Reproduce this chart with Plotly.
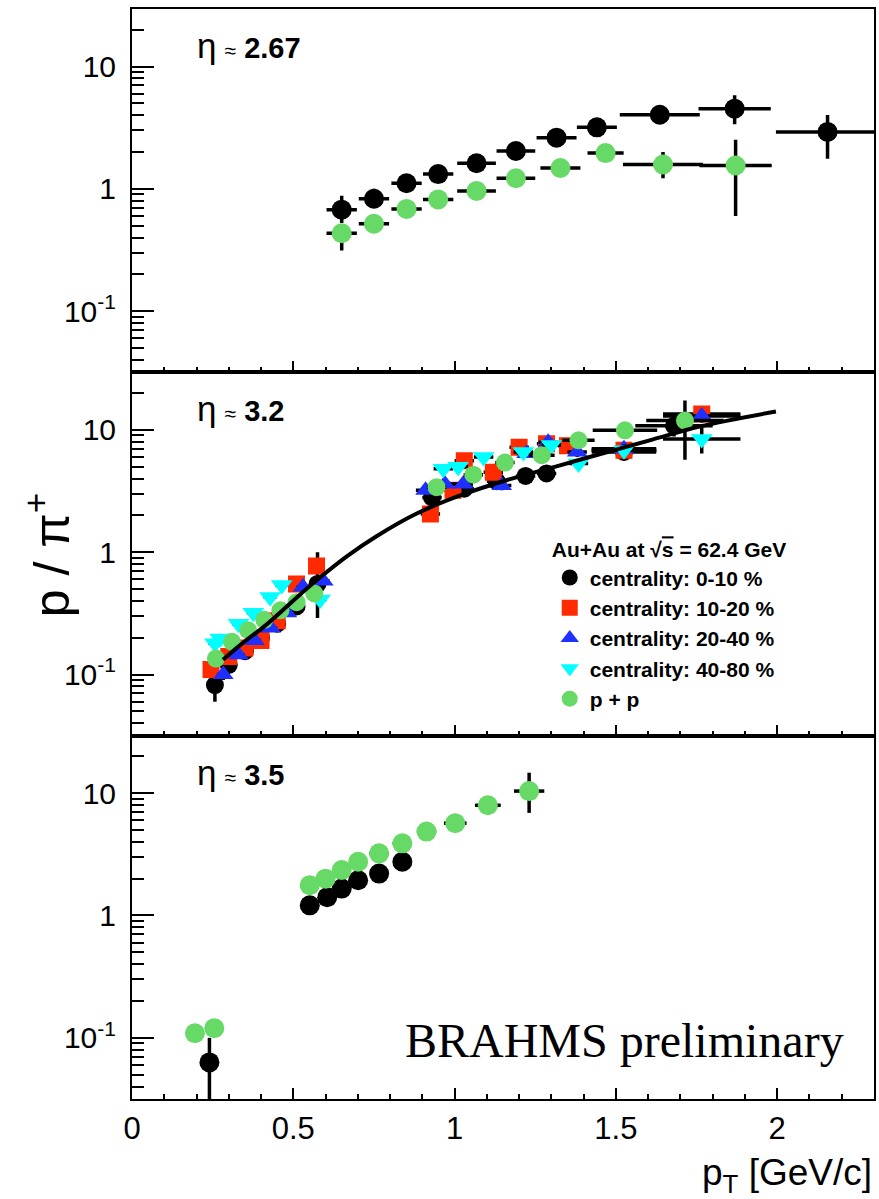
import plotly.graph_objects as go
from plotly.subplots import make_subplots

# ---------------- data ----------------
# Top panel (eta ~ 2.67)
top_c0_pt = [0.650, 0.750, 0.851, 0.949, 1.068, 1.190, 1.316, 1.441, 1.636, 1.868, 2.156]
top_c0_val = [0.676, 0.83, 1.11, 1.32, 1.62, 2.04, 2.62, 3.18, 4.03, 4.52, 2.92]
top_c0_ex = [0.047, 0.047, 0.047, 0.047, 0.06, 0.06, 0.062, 0.062, 0.124, 0.112, 0.16]
top_c0_eyp = [0.2, 0.17, 0.12, 0.13, 0.15, 0.2, 0.25, 0.3, 0.35, 1.3, 1.1]
top_c0_eym = [0.15, 0.1, 0.1, 0.1, 0.12, 0.15, 0.2, 0.25, 0.35, 1.15, 1.16]

top_pp_pt = [0.650, 0.750, 0.851, 0.949, 1.068, 1.190, 1.328, 1.468, 1.646, 1.871]
top_pp_val = [0.433, 0.518, 0.685, 0.819, 0.962, 1.22, 1.48, 1.96, 1.58, 1.55]
top_pp_ex = [0.047, 0.047, 0.047, 0.047, 0.06, 0.06, 0.062, 0.056, 0.124, 0.112]
top_pp_eyp = [0.05, 0.04, 0.05, 0.05, 0.06, 0.08, 0.1, 0.15, 0.42, 0.97]
top_pp_eym = [0.12, 0.04, 0.05, 0.05, 0.06, 0.08, 0.1, 0.15, 0.36, 0.95]

# Middle panel (eta ~ 3.2)
mid_c0_pt = [0.257, 0.30, 0.35, 0.40, 0.45, 0.51, 0.575, 0.93, 1.03, 1.13, 1.22, 1.285, 1.525, 1.68]
mid_c0_val = [0.082, 0.12, 0.155, 0.20, 0.26, 0.36, 0.55, 2.8, 3.3, 3.8, 4.2, 4.4, 6.6, 10.8]
mid_c0_ex = [0.02, 0.02, 0.02, 0.02, 0.02, 0.02, 0.02, 0.03, 0.03, 0.03, 0.03, 0.03, 0.1, 0.12]
mid_c0_eyp = [0.015, 0.01, 0.01, 0.015, 0.02, 0.03, 0.45, 0.3, 0.3, 0.35, 0.4, 0.45, 0.8, 2.0]
mid_c0_eym = [0.022, 0.01, 0.01, 0.015, 0.02, 0.03, 0.26, 0.3, 0.3, 0.35, 0.4, 0.45, 0.8, 2.0]

mid_c1_pt = [0.245, 0.30, 0.35, 0.40, 0.45, 0.51, 0.572, 0.925, 0.995, 1.03, 1.12, 1.20, 1.285, 1.35, 1.525, 1.766]
mid_c1_val = [0.11, 0.14, 0.165, 0.19, 0.275, 0.55, 0.77, 2.05, 3.2, 5.6, 4.5, 7.2, 7.7, 7.4, 6.8, 13.5]
mid_c1_ex = [0.02] * 7 + [0.03] * 7 + [0.1, 0.12]
mid_c1_ey = [0.01, 0.01, 0.01, 0.015, 0.02, 0.03, 0.08, 0.25, 0.3, 0.4, 0.4, 0.5, 0.6, 0.6, 0.8, 1.5]

mid_c2_pt = [0.283, 0.33, 0.38, 0.43, 0.48, 0.53, 0.593, 0.91, 0.97, 1.027, 1.146, 1.223, 1.29, 1.38, 1.525, 1.766]
mid_c2_val = [0.10, 0.145, 0.19, 0.24, 0.32, 0.52, 0.58, 3.2, 3.6, 3.6, 3.5, 6.4, 7.9, 6.6, 7.0, 13.0]
mid_c2_ex = [0.02] * 7 + [0.03] * 7 + [0.1, 0.12]
mid_c2_ey = [0.01, 0.01, 0.01, 0.015, 0.02, 0.03, 0.06, 0.25, 0.3, 0.3, 0.3, 0.5, 0.6, 0.6, 0.8, 1.5]

mid_c3_pt = [0.257, 0.273, 0.33, 0.376, 0.428, 0.464, 0.583, 0.965, 1.011, 1.09, 1.213, 1.30, 1.384, 1.525, 1.766]
mid_c3_val = [0.18, 0.197, 0.26, 0.32, 0.43, 0.54, 0.41, 4.8, 5.0, 6.0, 6.6, 7.5, 5.3, 6.8, 8.4]
mid_c3_ex = [0.02] * 7 + [0.03] * 6 + [0.1, 0.12]
mid_c3_ey = [0.01, 0.01, 0.015, 0.02, 0.03, 0.04, 0.05, 0.3, 0.3, 0.4, 0.5, 0.6, 0.5, 0.8, 2.0]

mid_pp_pt = [0.26, 0.31, 0.36, 0.41, 0.46, 0.51, 0.565, 0.944, 1.058, 1.156, 1.27, 1.384, 1.528, 1.714]
mid_pp_val = [0.135, 0.185, 0.23, 0.28, 0.335, 0.39, 0.46, 3.4, 4.3, 5.4, 6.2, 8.2, 9.9, 11.9]
mid_pp_ex = [0.02] * 7 + [0.03, 0.03, 0.03, 0.04, 0.05, 0.1, 0.12]
mid_pp_eyp = [0.01, 0.01, 0.01, 0.015, 0.02, 0.03, 0.04, 0.2, 0.3, 0.4, 0.5, 0.6, 0.8, 5.5]
mid_pp_eym = [0.01, 0.01, 0.01, 0.015, 0.02, 0.03, 0.04, 0.2, 0.3, 0.4, 0.5, 0.6, 0.8, 6.2]

fit_pt = [0.282, 0.34, 0.413, 0.49, 0.563, 0.668, 0.758, 0.878, 1.013, 1.163, 1.313, 1.463, 1.613, 1.763, 1.996]
fit_val = [0.132, 0.178, 0.251, 0.38, 0.562, 0.933, 1.35, 2.04, 2.88, 3.89, 5.01, 6.46, 8.32, 10.7, 14.1]

# Bottom panel (eta ~ 3.5)
bot_c0_pt = [0.24, 0.551, 0.605, 0.65, 0.701, 0.766, 0.838]
bot_c0_val = [0.063, 1.21, 1.41, 1.66, 1.94, 2.2, 2.75]
bot_c0_ex = [0.025] * 7
bot_c0_eyp = [0.037, 0.05, 0.05, 0.06, 0.07, 0.08, 0.1]
bot_c0_eym = [0.05, 0.05, 0.05, 0.06, 0.07, 0.08, 0.1]

bot_pp_pt = [0.195, 0.255, 0.551, 0.60, 0.65, 0.701, 0.766, 0.838, 0.913, 1.002, 1.103, 1.231]
bot_pp_val = [0.109, 0.12, 1.77, 2.0, 2.35, 2.75, 3.22, 3.89, 4.85, 5.69, 7.96, 10.4]
bot_pp_ex = [0.02, 0.02, 0.025, 0.025, 0.025, 0.025, 0.03, 0.03, 0.03, 0.035, 0.04, 0.047]
bot_pp_eyp = [0.005, 0.005, 0.06, 0.07, 0.08, 0.1, 0.12, 0.15, 0.2, 0.3, 0.5, 4.3]
bot_pp_eym = [0.005, 0.005, 0.06, 0.07, 0.08, 0.1, 0.12, 0.15, 0.2, 0.3, 0.5, 3.5]

legend_names = ["centrality: 0-10 %", "centrality: 10-20 %", "centrality: 20-40 %",
                "centrality: 40-80 %", "p + p"]
eta_labels = ["2.67", "3.2", "3.5"]

# ---------------- style ----------------
BLACK = "#000000"
RED = "#ff2a00"
BLUE = "#1f2fff"
CYAN = "#00ffff"
GREEN = "#66d966"
FONT = "Liberation Sans, Arial, Helvetica, sans-serif"

fig = make_subplots(rows=3, cols=1, shared_xaxes=True, vertical_spacing=0)


def add(row, pt, val, ex, eyp, eym, color, symbol, size, name=None, showlegend=False):
    fig.add_trace(go.Scatter(
        x=pt, y=val, mode="markers", name=name, showlegend=showlegend,
        marker=dict(color=color, symbol=symbol, size=size, line=dict(width=0)),
        error_x=dict(type="data", array=ex, color=BLACK, thickness=3.5, width=0),
        error_y=dict(type="data", array=eyp, arrayminus=eym, symmetric=False,
                     color=BLACK, thickness=3.5, width=0),
    ), row=row, col=1)


# top
add(1, top_c0_pt, top_c0_val, top_c0_ex, top_c0_eyp, top_c0_eym, BLACK, "circle", 20)
add(1, top_pp_pt, top_pp_val, top_pp_ex, top_pp_eyp, top_pp_eym, GREEN, "circle", 20)
# middle
add(2, mid_c0_pt, mid_c0_val, mid_c0_ex, mid_c0_eyp, mid_c0_eym, BLACK, "circle", 18,
    "<b>" + legend_names[0] + "</b>", True)
add(2, mid_c1_pt, mid_c1_val, mid_c1_ex, mid_c1_ey, mid_c1_ey, RED, "square", 17,
    "<b>" + legend_names[1] + "</b>", True)
add(2, mid_c2_pt, mid_c2_val, mid_c2_ex, mid_c2_ey, mid_c2_ey, BLUE, "triangle-up", 18,
    "<b>" + legend_names[2] + "</b>", True)
add(2, mid_c3_pt, mid_c3_val, mid_c3_ex, mid_c3_ey, mid_c3_ey, CYAN, "triangle-down", 19,
    "<b>" + legend_names[3] + "</b>", True)
add(2, mid_pp_pt, mid_pp_val, mid_pp_ex, mid_pp_eyp, mid_pp_eym, GREEN, "circle", 18,
    "<b>" + legend_names[4] + "</b>", True)
fig.add_trace(go.Scatter(x=fit_pt, y=fit_val, mode="lines", showlegend=False,
                         line=dict(color=BLACK, width=4, shape="spline")), row=2, col=1)
# bottom
add(3, bot_c0_pt, bot_c0_val, bot_c0_ex, bot_c0_eyp, bot_c0_eym, BLACK, "circle", 20)
add(3, bot_pp_pt, bot_pp_val, bot_pp_ex, bot_pp_eyp, bot_pp_eym, GREEN, "circle", 20)

minor_y = [0.04, 0.05, 0.06, 0.07, 0.08, 0.09,
           0.2, 0.3, 0.4, 0.5, 0.6, 0.7, 0.8, 0.9,
           2, 3, 4, 5, 6, 7, 8, 9, 20, 30]

for r in (1, 2, 3):
    fig.update_yaxes(
        type="log", range=[-1.5, 1.47],
        tickmode="array", tickvals=[0.1, 1, 10], ticktext=["10<sup>-1</sup>", "1", "10"],
        ticks="inside", ticklen=22, tickwidth=2, tickcolor=BLACK,
        minor=dict(tickmode="array", tickvals=minor_y, ticks="inside", ticklen=12,
                   tickwidth=2, tickcolor=BLACK, showgrid=False),
        showline=True, mirror=True, linecolor=BLACK, linewidth=2,
        showgrid=False, zeroline=False, ticklabelstandoff=8,
        tickfont=dict(family=FONT, size=30, color=BLACK),
        row=r, col=1)
    fig.update_xaxes(
        range=[0, 2.3], tickmode="array", tickvals=[0, 0.5, 1, 1.5, 2],
        ticktext=["0", "0.5", "1", "1.5", "2"],
        ticks="inside", ticklen=11, tickwidth=2, tickcolor=BLACK,
        minor=dict(dtick=0.1, tick0=0, ticks="inside", ticklen=5, tickwidth=2,
                   tickcolor=BLACK, showgrid=False),
        showline=True, mirror=True, linecolor=BLACK, linewidth=2,
        showgrid=False, zeroline=False, ticklabelstandoff=1,
        tickfont=dict(family=FONT, size=31, color=BLACK),
        row=r, col=1)

annotations = []
for i, lab in enumerate(eta_labels):
    yref = "y domain" if i == 0 else "y%d domain" % (i + 1)
    annotations.append(dict(
        xref="paper", yref=yref, x=0.085, y=0.9, xanchor="left", yanchor="middle",
        showarrow=False,
        text="<span style='font-size:35px'>η</span> <span style='font-size:21px'>≈</span> <b>" + lab + "</b>",
        font=dict(family=FONT, size=29, color=BLACK)))

annotations.append(dict(
    xref="paper", yref="paper", x=0.962, y=0.0537, xanchor="right", yanchor="middle",
    showarrow=False, text="BRAHMS preliminary",
    font=dict(family="Liberation Serif, Times New Roman, serif", size=48, color=BLACK)))
annotations.append(dict(
    xref="paper", yref="paper", x=1.0, y=-0.070, xanchor="right", yanchor="middle",
    showarrow=False, text="p<sub>T</sub> [GeV/c]",
    font=dict(family=FONT, size=37, color=BLACK)))
annotations.append(dict(
    xref="paper", yref="paper", x=-0.113, y=0.499, xanchor="center", yanchor="middle",
    showarrow=False, textangle=-90, text="p / π<sup>+</sup>",
    font=dict(family=FONT, size=50, color=BLACK)))

fig.update_layout(
    width=879, height=1199,
    margin=dict(l=132, r=3, t=9, b=100),
    paper_bgcolor="white", plot_bgcolor="white",
    annotations=annotations,
    legend=dict(
        x=0.563, y=0.522, xanchor="left", yanchor="top",
        bgcolor="rgba(0,0,0,0)", borderwidth=0,
        font=dict(family=FONT, size=21, color=BLACK),
        title=dict(text="<b>Au+Au at √<span style='text-decoration:overline'>s</span> = 62.4 GeV</b>",
                   font=dict(family=FONT, size=21, color=BLACK)),
        itemsizing="trace", tracegroupgap=0,
    ),
)

fig.write_html("out.html")
